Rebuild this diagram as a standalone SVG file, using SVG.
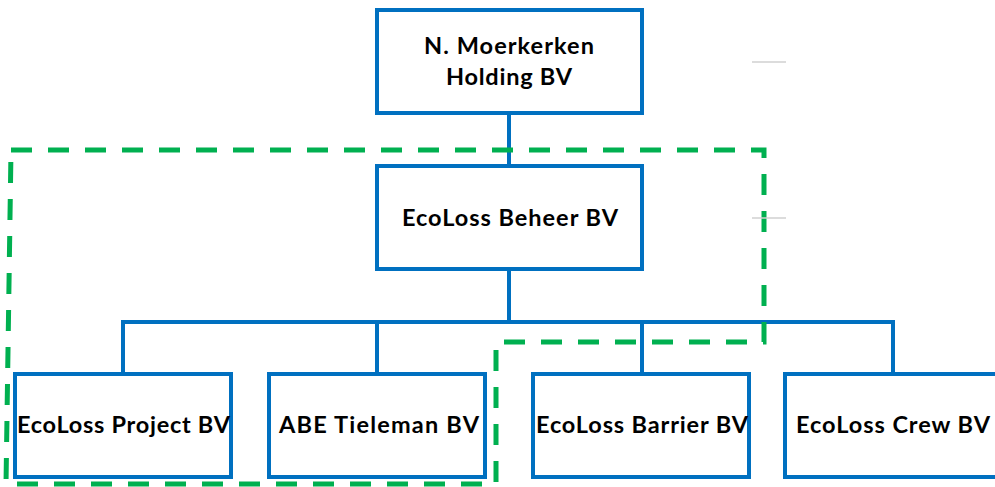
<svg xmlns="http://www.w3.org/2000/svg" width="995" height="487" viewBox="0 0 995 487">
<style>
.box{fill:#fff;stroke:#0070C0;stroke-width:4}
.conn{fill:none;stroke:#0070C0;stroke-width:4}
.lbl{font-family:Lato,"Liberation Sans",sans-serif;font-weight:bold;font-size:23.5px;fill:#000;text-anchor:middle}
.grp{fill:none;stroke:#00B050;stroke-width:5;stroke-dasharray:21 16}
.gray{stroke:#D0D0D0;stroke-width:1.5}
</style>
<rect width="995" height="487" fill="#fff"/>
<g id="connectors">
<line class="conn" x1="509" y1="113" x2="509" y2="166"/>
<line class="conn" x1="509" y1="269" x2="509" y2="322"/>
<polyline class="conn" points="123,374 123,322 893,322 893,374"/>
<line class="conn" x1="377" y1="322" x2="377" y2="374"/>
<line class="conn" x1="642" y1="322" x2="642" y2="374"/>
</g>
<g id="holding">
<rect class="box" x="377" y="10" width="265" height="103"/>
<text class="lbl" x="509" y="54" textLength="170" lengthAdjust="spacing">N. Moerkerken</text>
<text class="lbl" x="509" y="85" textLength="126" lengthAdjust="spacing">Holding BV</text>
</g>
<g id="beheer">
<rect class="box" x="377" y="166" width="265" height="103"/>
<text class="lbl" x="510" y="226" textLength="216" lengthAdjust="spacing">EcoLoss Beheer BV</text>
</g>
<g id="project">
<rect class="box" x="15" y="374" width="216" height="103"/>
<text class="lbl" x="123.5" y="433" textLength="213" lengthAdjust="spacing">EcoLoss Project BV</text>
</g>
<g id="tieleman">
<rect class="box" x="269" y="374" width="216" height="103"/>
<text class="lbl" x="379" y="433" textLength="200" lengthAdjust="spacing">ABE Tieleman BV</text>
</g>
<g id="barrier">
<rect class="box" x="533" y="374" width="216" height="103"/>
<text class="lbl" x="642" y="433" textLength="212" lengthAdjust="spacing">EcoLoss Barrier BV</text>
</g>
<g id="crew">
<rect class="box" x="785" y="374" width="216" height="103"/>
<text class="lbl" x="893" y="433" textLength="194" lengthAdjust="spacing">EcoLoss Crew BV</text>
</g>
<g id="group-outline">
<path class="grp" d="M11,150 L764,150 L764,342 L496,342 L496,484 L6,484 Z"/>
</g>
<g id="marks">
<line class="gray" x1="752" y1="62" x2="786" y2="62"/>
<line class="gray" x1="752" y1="218" x2="786" y2="218"/>
</g>
</svg>
